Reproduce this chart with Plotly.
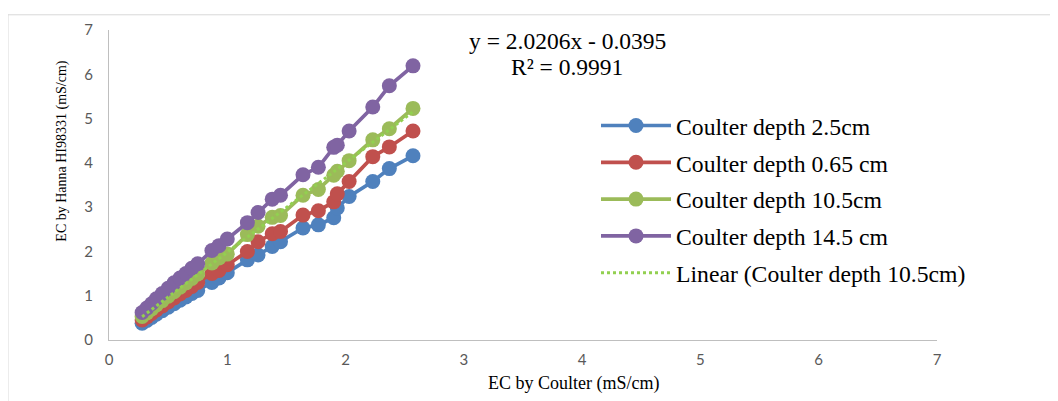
import plotly.graph_objects as go

# Data
x_coulter = [0.28, 0.32, 0.36, 0.40, 0.45, 0.50, 0.55, 0.60, 0.65, 0.70, 0.75, 0.87, 0.93, 1.00,
             1.17, 1.26, 1.38, 1.45, 1.64, 1.77, 1.90, 1.93, 2.03, 2.23, 2.37, 2.57]
depth_2_5 = [0.38, 0.44, 0.51, 0.58, 0.66, 0.74, 0.82, 0.90, 0.97, 1.05, 1.12, 1.30, 1.40, 1.52,
             1.81, 1.92, 2.11, 2.22, 2.53, 2.60, 2.76, 2.98, 3.24, 3.58, 3.87, 4.16]
depth_0_65 = [0.45, 0.52, 0.60, 0.68, 0.77, 0.86, 0.95, 1.04, 1.12, 1.21, 1.30, 1.50, 1.57, 1.70,
              2.00, 2.22, 2.40, 2.45, 2.82, 2.92, 3.12, 3.30, 3.58, 4.14, 4.36, 4.72]
depth_10_5 = [0.53, 0.61, 0.70, 0.79, 0.89, 0.99, 1.09, 1.19, 1.29, 1.39, 1.49, 1.74, 1.85, 1.94,
              2.38, 2.57, 2.77, 2.81, 3.27, 3.40, 3.72, 3.81, 4.05, 4.52, 4.77, 5.23]
depth_14_5 = [0.62, 0.72, 0.82, 0.93, 1.05, 1.17, 1.29, 1.40, 1.50, 1.62, 1.72, 2.02, 2.13, 2.28,
              2.65, 2.88, 3.18, 3.27, 3.73, 3.90, 4.35, 4.40, 4.72, 5.26, 5.74, 6.19]

series_names = ["Coulter depth 2.5cm", "Coulter depth 0.65 cm", "Coulter depth 10.5cm", "Coulter depth 14.5 cm"]
series_values = [depth_2_5, depth_0_65, depth_10_5, depth_14_5]
series_colors = ["#4F81BD", "#C0504D", "#9BBB59", "#8064A2"]

trend_slope = 2.0206
trend_intercept = -0.0395
trend_label = "Linear (Coulter depth 10.5cm)"

axis_ticks = [0, 1, 2, 3, 4, 5, 6, 7]

# Layout geometry (figure pixels; page body adds an 8px offset)
OFF = 8
W, H = 1050, 393
L, R, T, B = 109 - OFF, 937 - OFF, 24 - OFF, 340 - OFF


def px(xs):
    # xs: screenshot pixel x
    return (xs - OFF - L) / (R - L)


def py(ys):
    # ys: screenshot pixel y
    return (B - (ys - OFF)) / (B - T)


fig = go.Figure()
for i, (name, vals, col) in enumerate(zip(series_names, series_values, series_colors)):
    fig.add_trace(go.Scatter(
        x=x_coulter, y=vals, name=name, mode="lines+markers",
        line=dict(color=col, width=3.7),
        marker=dict(color=col, size=15),
        legendgroup=f"g{i}",
    ))

tx = [min(x_coulter), max(x_coulter)]
ty = [trend_slope * v + trend_intercept for v in tx]
fig.add_trace(go.Scatter(
    x=tx, y=ty, name=trend_label, mode="lines",
    line=dict(color="#92D050", width=3, dash="dot"),
    legendgroup="g4",
))

fig.update_layout(
    width=W, height=H,
    margin=dict(l=L, r=W - R, t=T, b=H - B),
    paper_bgcolor="white", plot_bgcolor="white",
    showlegend=True,
    legend=dict(
        x=px(588 + OFF), y=py(91 + OFF), xanchor="left", yanchor="top",
        font=dict(family="Liberation Serif, Times New Roman, serif", size=23.7, color="#000000"),
        itemwidth=70, tracegroupgap=3, bgcolor="rgba(0,0,0,0)",
    ),
    font=dict(family="Lato, sans-serif"),
)
fig.update_xaxes(
    range=[0, 7], tickvals=axis_ticks, showgrid=False, zeroline=False,
    showline=True, linecolor="#BFBFBF", linewidth=1.3, ticks="",
    tickfont=dict(family="Lato, sans-serif", size=15, color="#595959"),
    ticklabelstandoff=6,
)
fig.update_yaxes(
    range=[0, 7], tickvals=axis_ticks, showgrid=False, zeroline=False,
    showline=True, linecolor="#BFBFBF", linewidth=1.3, ticks="",
    tickfont=dict(family="Lato, sans-serif", size=15, color="#595959"),
    ticklabelstandoff=12,
)

serif = "Liberation Serif, Times New Roman, serif"


def label(xs, ys, text, size, angle=0):
    fig.add_annotation(x=px(xs), y=py(ys), xref="paper", yref="paper", showarrow=False,
                       xanchor="center", yanchor="middle", textangle=angle,
                       text=text, font=dict(family=serif, size=size, color="#000"))


label(567, 35, "y = 2.0206x - 0.0395", 23.5)
label(567, 62, "R² = 0.9991", 23.5)
label(573, 384, "EC by Coulter (mS/cm)", 18)
label(62, 147, "EC by Hanna HI98331 (mS/cm)", 14, angle=-90)

# outer chart border (left and top edges visible)
fig.add_shape(type="line", xref="paper", yref="paper", x0=px(8), x1=px(8), y0=py(8), y1=py(410),
              line=dict(color="#D9D9D9", width=1))
fig.add_shape(type="line", xref="paper", yref="paper", x0=px(8), x1=px(1070), y0=py(8.5), y1=py(8.5),
              line=dict(color="#D9D9D9", width=1))

fig.write_html("out.html")
